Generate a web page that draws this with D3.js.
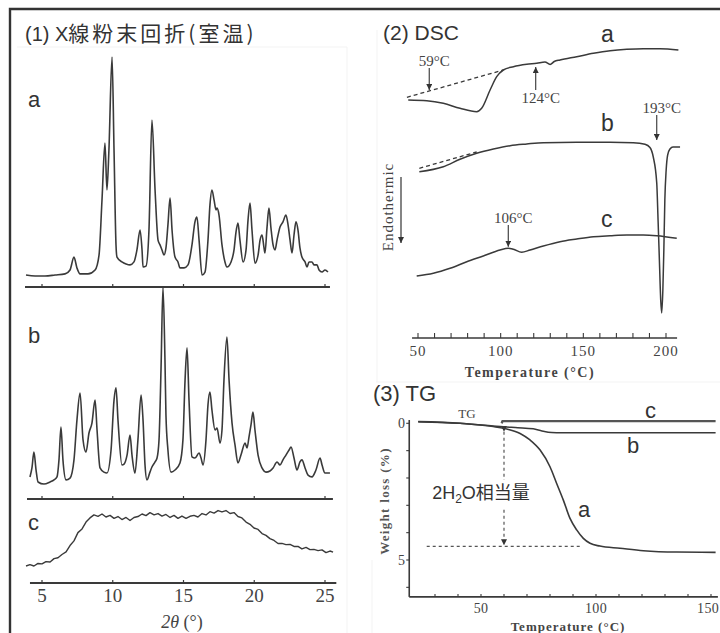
<!DOCTYPE html>
<html>
<head>
<meta charset="utf-8">
<script src="https://cdn.jsdelivr.net/npm/d3@7"></script>
<style>
body { margin: 0; background: #fff; }
</style>
</head>
<body>
<div id="chart"></div>
<script>
// ---------- data ----------
// (1) XRD, room temperature: [2theta (deg), intensity (a.u.)]
const xrdTicks = [5, 10, 15, 20, 25];
const xrdA = [[3.87,5.2],[4.51,4.8],[5.21,4.8],[5.92,5.2],[6.63,5.7],[6.98,7.4],[7.26,13.0],[7.47,8.3],[7.69,5.7],[8.25,5.7],[8.75,7.4],[9.03,13.9],[9.24,37.8],[9.45,62.6],[9.59,42.2],[9.73,59.6],[9.95,100],[10.09,59.6],[10.23,18.3],[10.30,13.0],[10.65,10.9],[10.94,10.0],[11.22,9.6],[11.50,10.9],[11.71,16.1],[11.93,24.8],[12.07,16.1],[12.14,8.7],[12.35,9.1],[12.56,24.8],[12.77,72.6],[12.99,42.2],[13.20,20.4],[13.34,18.3],[13.48,16.1],[13.62,13.9],[13.76,17.0],[13.90,27.0],[14.05,38.7],[14.19,24.8],[14.40,13.0],[14.61,10.9],[14.75,8.3],[15.04,8.3],[15.32,9.6],[15.60,18.3],[15.81,28.3],[15.95,30.4],[16.10,20.4],[16.31,5.2],[16.52,6.5],[16.73,20.4],[16.87,35.7],[17.01,42.2],[17.16,37.8],[17.30,33.5],[17.37,34.3],[17.51,31.3],[17.72,18.3],[17.93,10.9],[18.07,8.7],[18.36,10.9],[18.57,16.1],[18.71,23.9],[18.85,27.8],[18.99,20.4],[19.21,10.9],[19.42,16.1],[19.56,29.1],[19.70,36.5],[19.84,24.8],[20.05,10.4],[20.27,13.9],[20.41,20.4],[20.55,22.6],[20.69,17.0],[20.76,14.8],[20.90,25.7],[21.04,34.3],[21.18,25.7],[21.33,18.3],[21.47,16.1],[21.61,20.4],[21.82,26.1],[22.03,28.3],[22.24,31.3],[22.39,27.0],[22.53,20.4],[22.67,14.8],[22.81,22.6],[22.95,28.3],[23.09,24.8],[23.23,17.0],[23.37,13.0],[23.59,10.9],[23.73,8.7],[23.87,10.9],[24.08,10.9],[24.22,9.6],[24.43,9.6],[24.58,7.4],[24.79,6.5],[25.00,7.4],[25.21,6.5]];
const xrdB = [[4.15,9.6],[4.29,13.5],[4.43,20.4],[4.58,12.6],[4.72,7.4],[5.14,6.5],[5.57,7.4],[5.85,8.3],[6.06,9.6],[6.20,17.0],[6.34,31.3],[6.48,17.0],[6.70,8.3],[6.98,9.1],[7.26,17.0],[7.47,34.3],[7.69,46.1],[7.90,25.7],[8.11,20.4],[8.32,28.7],[8.53,33.0],[8.75,43.0],[8.89,30.0],[9.10,13.5],[9.38,11.7],[9.59,11.3],[9.88,21.3],[10.09,43.0],[10.23,48.3],[10.37,34.3],[10.65,14.8],[10.80,15.2],[11.01,19.1],[11.22,27.8],[11.36,19.1],[11.57,11.3],[11.78,25.7],[12.00,45.2],[12.14,34.3],[12.28,14.8],[12.42,8.3],[12.63,11.7],[12.77,13.9],[12.99,16.1],[13.13,17.8],[13.27,25.7],[13.41,56.1],[13.55,92.2],[13.69,60.4],[13.76,36.5],[13.90,21.3],[14.12,11.7],[14.40,12.6],[14.75,15.7],[14.96,25.7],[15.11,51.7],[15.25,65.7],[15.39,43.0],[15.60,18.3],[15.81,17.8],[16.10,20.0],[16.24,17.8],[16.38,14.8],[16.59,25.7],[16.73,40.9],[16.87,46.5],[17.01,38.7],[17.23,30.0],[17.37,30.9],[17.58,24.3],[17.72,30.0],[17.86,51.7],[18.07,70.4],[18.22,51.7],[18.43,33.0],[18.64,23.5],[18.85,15.7],[19.06,19.1],[19.35,24.3],[19.49,22.2],[19.63,27.0],[19.77,32.2],[19.91,37.8],[20.05,30.0],[20.27,19.1],[20.55,13.5],[20.83,11.7],[21.11,12.2],[21.33,13.5],[21.61,16.1],[21.82,14.8],[22.03,17.0],[22.24,19.1],[22.46,21.3],[22.60,22.6],[22.81,17.8],[23.02,12.6],[23.23,16.1],[23.37,17.0],[23.59,13.5],[23.80,10.4],[24.08,9.6],[24.36,12.6],[24.65,17.8],[24.79,14.8],[25.00,11.3],[25.35,11.3]];
const xrdC = [[3.87,7.4],[4.15,8.0],[4.43,7.4],[4.72,8.5],[5.00,8.3],[5.28,9.3],[5.57,9.1],[5.85,10.6],[6.13,11.0],[6.41,12.4],[6.70,13.5],[6.98,16.3],[7.26,18.3],[7.54,21.9],[7.83,23.5],[8.11,26.5],[8.39,28.3],[8.67,29.6],[8.96,29.0],[9.24,30.0],[9.52,28.7],[9.81,29.4],[10.09,28.1],[10.37,28.9],[10.65,27.6],[10.94,28.5],[11.22,27.2],[11.50,28.5],[11.78,28.9],[12.07,30.0],[12.35,29.3],[12.63,30.6],[12.92,29.6],[13.20,30.2],[13.48,29.1],[13.76,29.8],[14.05,28.5],[14.33,29.4],[14.61,28.1],[14.89,29.1],[15.18,28.1],[15.46,29.0],[15.74,29.4],[16.02,28.7],[16.31,30.2],[16.59,29.6],[16.87,31.0],[17.16,30.4],[17.44,31.5],[17.72,30.9],[18.00,31.5],[18.29,30.2],[18.57,30.6],[18.85,28.9],[19.13,28.3],[19.42,26.5],[19.70,25.5],[19.98,23.9],[20.27,23.3],[20.55,21.5],[20.83,20.7],[21.11,19.3],[21.40,18.5],[21.68,17.2],[21.96,17.2],[22.24,16.7],[22.53,16.8],[22.81,15.9],[23.09,15.9],[23.37,14.8],[23.66,15.5],[23.94,14.5],[24.22,14.6],[24.51,14.1],[24.79,14.4],[25.07,13.2],[25.35,13.9],[25.57,13.4]];

// (2) DSC: [temperature (C), heat flow (a.u., endo down)]
const dscTicks = [50, 100, 150, 200];
const dscA = [[44.1,238],[55.3,237.3],[65.3,234.7],[75.4,229.7],[85.5,226.3],[88.5,229.7],[93.6,248],[97.6,261.3],[101.6,268],[107.7,271.3],[115.8,273.7],[121.8,274.7],[126.8,276],[129.9,273.6],[132.4,276.5],[135.9,278],[146,281.3],[156.1,284.7],[166.2,287.3],[176.3,288.7],[186.3,289.3],[196.4,289.3],[207.5,288]];
const dscABase = [[43.3,240.7],[101.6,268]];
const dscB = [[50.8,166.3],[65.3,171.3],[75.4,178.7],[85.5,184.7],[95.6,189],[105.7,192.3],[115.8,194],[125.8,195.3],[146,195.7],[166.2,195.7],[180.2,195.3],[187.3,193.7],[190.3,190.5],[192.3,181],[194.4,155],[195.2,118],[196.0,78],[196.8,38],[197.4,25],[198.1,48],[198.7,88],[199.3,138],[200.1,168],[201.0,183],[202.4,189],[204.2,191],[208.5,191]];
const dscBBase = [[50.8,169.7],[85.5,186]];
const dscC = [[49.2,62],[59.3,64.7],[69.4,69.7],[79.5,76.3],[89.5,82],[99.6,88],[104.6,89.7],[107.7,88.7],[112.7,85.7],[117.8,88],[125.8,92],[135.9,96.3],[146,99],[156.1,101.3],[166.2,102.3],[176.3,103],[186.3,103],[194.4,102.3],[206.5,99.7]];
const dscNotes = [
  { text: "59°C", t: 56.8, from: 270, to: 248 },
  { text: "124°C", t: 121.2, from: 248, to: 271 },
  { text: "193°C", t: 194.4, from: 223, to: 198 },
  { text: "106°C", t: 104.6, from: 113, to: 91.3 }
];

// (3) TG: [temperature (C), weight loss (%)]
const tgXTicks = [50, 100, 150];
const tgYTicks = [0, 5];
const tgA = [[22.7,-0.06],[40.9,0],[55.3,0.12],[61.2,0.21],[67,0.37],[71.3,0.61],[75.7,0.98],[80,1.59],[82.9,2.2],[85.8,2.81],[88.7,3.48],[91.6,3.9],[94.5,4.21],[97.4,4.39],[101.7,4.49],[110.4,4.57],[120.6,4.66],[135.1,4.71],[152,4.72]];
const tgB = [[22.7,-0.06],[40.9,0],[55.3,0.1],[59.7,0.13],[66,0.16],[72.7,0.2],[76.5,0.28],[80.7,0.34],[85,0.35],[152,0.35]];
const tgC = [[59,0],[59.3,-0.08],[152,-0.08]];
const tgWater = 4.5;   // 2H2O equivalent loss
const tgWaterT = 60;

// ---------- drawing ----------
const ink = "#333";
const SANS = "'Liberation Sans', Arial, sans-serif";
const SERIF = "'Liberation Serif', 'Times New Roman', serif";
const CJK = "'Noto Sans CJK JP', sans-serif";

let svg = d3.select("#chart").append("svg")
    .attr("width", 720)
    .attr("height", 633)
    .style("background", "#fff");

let defs = svg.append("defs");
defs.append("marker")
    .attr("id", "arr")
    .attr("viewBox", "0 0 8 8")
    .attr("refX", 8).attr("refY", 4)
    .attr("markerWidth", 6).attr("markerHeight", 6)
    .attr("markerUnits", "userSpaceOnUse")
    .attr("orient", "auto")
    .append("path").attr("d", "M0,0 L8,4 L0,8 z").attr("fill", ink);

// faint scan edges
[[17,47,347,47],[347,47,347,633],[377,30,377,382],[376,382,720,382],[372,560,372,633]].forEach(l => {
    svg.append("line").attr("x1", l[0]).attr("y1", l[1]).attr("x2", l[2]).attr("y2", l[3])
        .attr("stroke", "#f3f3f3").attr("stroke-width", 1);
});

// frame
svg.append("path").attr("d", "M10,633 V9 H720")
    .attr("fill", "none").attr("stroke", "#333").attr("stroke-width", 2.4);

function plotLine(g, data, x, y, opts) {
    opts = opts || {};
    return g.append("path")
        .datum(data)
        .attr("fill", "none")
        .attr("stroke", opts.color || "#3a3a3a")
        .attr("stroke-width", opts.width || 1.6)
        .attr("stroke-dasharray", opts.dash || null)
        .attr("stroke-linejoin", "round")
        .attr("d", d3.line().x(d => x(d[0])).y(d => y(d[1]))
            .curve(opts.curve || d3.curveMonotoneX));
}

// ===== (1) XRD =====
let g1 = svg.append("g");
g1.append("text").attr("x", 25).attr("y", 41)
    .style("font-family", SANS).style("font-size", "20px").attr("fill", ink)
    .text("(1) X")
    .append("tspan").style("font-family", CJK).style("font-size", "21px")
    .attr("letter-spacing", "3px").text("線粉末回折(室温)");

let x1 = d3.scaleLinear().domain([5, 25]).range([42, 325]);
let xrdRows = [
    { data: xrdA, base: 287, span: [3.8, 25.35], label: "a", ly: 107, curve: d3.curveMonotoneX },
    { data: xrdB, base: 499, span: [3.94, 25.56], label: "b", ly: 343, curve: d3.curveMonotoneX },
    { data: xrdC, base: 583, span: [4.15, 25.8], label: "c", ly: 530, curve: d3.curveLinear }
];
xrdRows.forEach(r => {
    let y = d3.scaleLinear().domain([0, 100]).range([r.base, r.base - 230]);
    g1.append("line")
        .attr("x1", x1(r.span[0])).attr("x2", x1(r.span[1]))
        .attr("y1", r.base).attr("y2", r.base)
        .attr("stroke", "#3a3a3a").attr("stroke-width", 1.8);
    g1.selectAll(null).data(xrdTicks).enter().append("line")
        .attr("x1", d => x1(d)).attr("x2", d => x1(d))
        .attr("y1", r.base).attr("y2", r.base - 3)
        .attr("stroke", "#3a3a3a").attr("stroke-width", 1.2);
    plotLine(g1, r.data, x1, y, { curve: r.curve, width: r.label === "c" ? 1.4 : 1.6 });
    g1.append("text").attr("x", 28).attr("y", r.ly)
        .style("font-family", SANS).style("font-size", "22px").attr("fill", ink)
        .text(r.label);
});
g1.selectAll(".xt").data(xrdTicks).enter().append("text")
    .attr("x", d => x1(d)).attr("y", 602)
    .attr("text-anchor", "middle")
    .style("font-family", SERIF).style("font-size", "19px").attr("fill", "#444")
    .text(d => d);
let xl = g1.append("text").attr("x", 182).attr("y", 628).attr("text-anchor", "middle")
    .style("font-family", SERIF).style("font-size", "18px").attr("fill", "#444");
xl.append("tspan").style("font-style", "italic").text("2θ");
xl.append("tspan").text(" (°)");

// ===== (2) DSC =====
let g2 = svg.append("g");
g2.append("text").attr("x", 383).attr("y", 40)
    .style("font-family", SANS).style("font-size", "21px").attr("fill", ink).text("(2) DSC");

let x2 = d3.scaleLinear().domain([50, 200]).range([418, 666]);
let y2 = d3.scaleLinear().domain([0, 300]).range([338, 38]);

g2.append("line").attr("x1", x2(46.4)).attr("x2", x2(206.7))
    .attr("y1", 338).attr("y2", 338).attr("stroke", "#3a3a3a").attr("stroke-width", 1.6);
g2.selectAll(null).data(d3.range(50, 201, 10)).enter().append("line")
    .attr("x1", d => x2(d)).attr("x2", d => x2(d))
    .attr("y1", 338).attr("y2", 333)
    .attr("stroke", "#3a3a3a").attr("stroke-width", 1.1);
g2.selectAll(null).data(dscTicks).enter().append("text")
    .attr("x", d => x2(d)).attr("y", 356).attr("text-anchor", "middle")
    .style("font-family", SERIF).style("font-size", "15px").attr("letter-spacing", "1px")
    .attr("fill", "#444").text(d => d);
g2.append("text").attr("x", 530).attr("y", 377).attr("text-anchor", "middle")
    .style("font-family", SERIF).style("font-size", "14px").attr("letter-spacing", "1.5px")
    .style("font-weight", "bold").attr("fill", "#444").text("Temperature (°C)");

plotLine(g2, dscABase, x2, y2, { dash: "4,3", width: 1.3, curve: d3.curveLinear });
plotLine(g2, dscBBase, x2, y2, { dash: "4,3", width: 1.3, curve: d3.curveLinear });
plotLine(g2, dscC, x2, y2, { width: 1.5 });
plotLine(g2, dscA, x2, y2, { width: 1.5 });
plotLine(g2, dscB, x2, y2, { width: 1.5 });

[["a", 42], ["b", 131], ["c", 227]].forEach(l => {
    g2.append("text").attr("x", 601).attr("y", l[1])
        .style("font-family", SANS).style("font-size", "23px").attr("fill", ink).text(l[0]);
});

dscNotes.forEach(n => {
    g2.append("line")
        .attr("x1", x2(n.t)).attr("x2", x2(n.t))
        .attr("y1", y2(n.from)).attr("y2", y2(n.to))
        .attr("stroke", ink).attr("stroke-width", 1.1)
        .attr("marker-end", "url(#arr)");
    let up = n.to > n.from;
    g2.append("text")
        .attr("x", x2(n.t) + 5)
        .attr("y", up ? y2(n.from) + 13 : y2(n.from) - 2)
        .attr("text-anchor", "middle")
        .style("font-family", SERIF).style("font-size", "15px").attr("fill", "#444")
        .text(n.text);
});

g2.append("text")
    .attr("transform", "translate(393,207) rotate(-90)")
    .attr("text-anchor", "middle")
    .style("font-family", SERIF).style("font-size", "15px").attr("letter-spacing", "1px")
    .attr("fill", "#444").text("Endothermic");
g2.append("line").attr("x1", 401).attr("x2", 401).attr("y1", 177).attr("y2", 243)
    .attr("stroke", ink).attr("stroke-width", 1.2).attr("marker-end", "url(#arr)");

// ===== (3) TG =====
let g3 = svg.append("g");
g3.append("text").attr("x", 373).attr("y", 401)
    .style("font-family", SANS).style("font-size", "22px").attr("fill", ink).text("(3) TG");

let x3 = d3.scaleLinear().domain([50, 150]).range([481, 711]);
let y3 = d3.scaleLinear().domain([0, 5]).range([423.3, 560]);

g3.append("line").attr("x1", x3(18.8)).attr("x2", x3(153))
    .attr("y1", y3(6.35)).attr("y2", y3(6.35)).attr("stroke", "#3a3a3a").attr("stroke-width", 1.6);
g3.append("line").attr("x1", x3(18.8)).attr("x2", x3(18.8))
    .attr("y1", y3(-0.12)).attr("y2", y3(6.35)).attr("stroke", "#3a3a3a").attr("stroke-width", 1.6);
g3.selectAll(null).data(d3.range(30, 151, 10)).enter().append("line")
    .attr("x1", d => x3(d)).attr("x2", d => x3(d))
    .attr("y1", y3(6.35)).attr("y2", y3(6.35) - 3)
    .attr("stroke", "#3a3a3a").attr("stroke-width", 1.1);
g3.selectAll(null).data(d3.range(0, 7, 1)).enter().append("line")
    .attr("x1", x3(18.8)).attr("x2", x3(18.8) - 3)
    .attr("y1", d => y3(d)).attr("y2", d => y3(d))
    .attr("stroke", "#3a3a3a").attr("stroke-width", 1.1);
// last label sits against the right edge
g3.selectAll(null).data(tgXTicks).enter().append("text")
    .attr("x", (d, i) => i === tgXTicks.length - 1 ? 719 : x3(d))
    .attr("y", 613)
    .attr("text-anchor", (d, i) => i === tgXTicks.length - 1 ? "end" : "middle")
    .style("font-family", SERIF).style("font-size", "14px").attr("letter-spacing", "0.3px")
    .attr("fill", "#444").text(d => d);
g3.selectAll(null).data(tgYTicks).enter().append("text")
    .attr("x", 405).attr("y", d => y3(d) + 5).attr("text-anchor", "end")
    .style("font-family", SERIF).style("font-size", "14px").attr("fill", "#444").text(d => d);
g3.append("text").attr("x", 568).attr("y", 631).attr("text-anchor", "middle")
    .style("font-family", SERIF).style("font-size", "13px").attr("letter-spacing", "1px")
    .style("font-weight", "bold").attr("fill", "#444").text("Temperature (°C)");
g3.append("text")
    .attr("transform", "translate(389,501) rotate(-90)")
    .attr("text-anchor", "middle")
    .style("font-family", SERIF).style("font-size", "13px").attr("letter-spacing", "1.3px")
    .style("font-weight", "bold").attr("fill", "#555").text("Weight loss (%)");
g3.append("text").attr("x", 467).attr("y", 418).attr("text-anchor", "middle")
    .style("font-family", SERIF).style("font-size", "13px").attr("fill", "#444").text("TG");

// 2H2O guides
g3.append("line").attr("x1", x3(26.4)).attr("x2", x3(93.8))
    .attr("y1", y3(tgWater)).attr("y2", y3(tgWater))
    .attr("stroke", "#555").attr("stroke-width", 1.2).attr("stroke-dasharray", "3,3");
g3.append("line").attr("x1", x3(tgWaterT)).attr("x2", x3(tgWaterT))
    .attr("y1", y3(0.31)).attr("y2", y3(tgWater) - 1)
    .attr("stroke", "#555").attr("stroke-width", 1.2).attr("stroke-dasharray", "3,3")
    .attr("marker-end", "url(#arr)").attr("marker-start", "url(#arr)");
g3.append("rect").attr("x", 426).attr("y", 480).attr("width", 110).attr("height", 27).attr("fill", "#fff");
let wt = g3.append("text").attr("x", 481).attr("y", 499).attr("text-anchor", "middle")
    .style("font-family", SANS).style("font-size", "18px").attr("fill", ink);
wt.append("tspan").text("2H");
wt.append("tspan").attr("dy", 4).style("font-size", "12px").text("2");
wt.append("tspan").attr("dy", -4).text("O");
wt.append("tspan").style("font-family", CJK).style("font-size", "18px").text("相当量");

plotLine(g3, tgB, x3, y3, { width: 1.5 });
plotLine(g3, tgA, x3, y3, { width: 1.6 });
plotLine(g3, tgC, x3, y3, { width: 2.4, color: "#555", curve: d3.curveLinear });

[["c", 645, 418], ["b", 627, 453], ["a", 578, 517]].forEach(l => {
    g3.append("text").attr("x", l[1]).attr("y", l[2])
        .style("font-family", SANS).style("font-size", "22px").attr("fill", ink).text(l[0]);
});
</script>
</body>
</html>
